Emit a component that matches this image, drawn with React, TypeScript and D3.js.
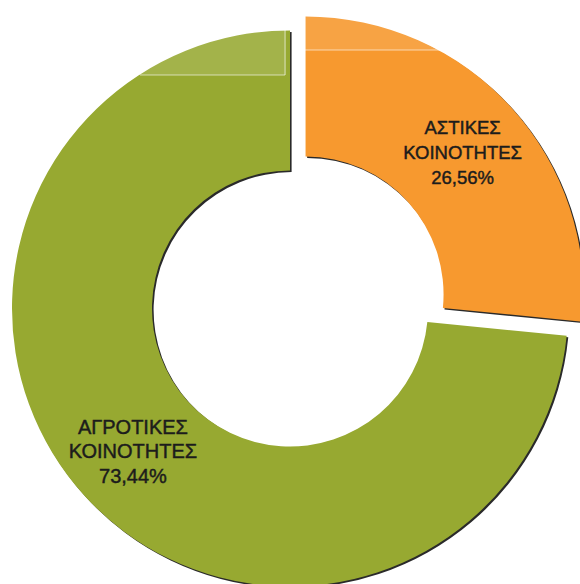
import React from "react";
import * as d3 from "d3";

const categories = ["ΑΣΤΙΚΕΣ ΚΟΙΝΟΤΗΤΕΣ", "ΑΓΡΟΤΙΚΕΣ ΚΟΙΝΟΤΗΤΕΣ"];
const labelLines = [["ΑΣΤΙΚΕΣ", "ΚΟΙΝΟΤΗΤΕΣ"], ["ΑΓΡΟΤΙΚΕΣ", "ΚΟΙΝΟΤΗΤΕΣ"]];
const values = [26.56, 73.44];
const valueLabels = ["26,56%", "73,44%"];
const colors = ["#f7992f", "#97a931"];
const explode = [21, 0];
const fontSizes = [18.5, 20];
const lineHeights = [25, 24.5];

const W = 580;
const H = 584;
const cx = 290;
const cy = 308.5;
const outerR = 278;
const innerR = 138;
const labelR = 212;

export default function App() {
  const pie = d3.pie<number>().sort(null).value((d) => d);
  const arcs = pie(values);
  const arc = d3.arc<d3.PieArcDatum<number>>().innerRadius(innerR).outerRadius(outerR);
  const labelArc = d3.arc<d3.PieArcDatum<number>>().innerRadius(labelR).outerRadius(labelR);

  const offsets = arcs.map((a, i) => {
    const mid = (a.startAngle + a.endAngle) / 2;
    return [Math.sin(mid) * explode[i], -Math.cos(mid) * explode[i]];
  });

  return (
    <svg
      width={W}
      height={H}
      style={{ position: "absolute", left: 0, top: 0, background: "#ffffff" }}
      fontFamily="'Liberation Sans', Arial, sans-serif"
    >
      <g transform={`translate(${cx},${cy})`}>
        {arcs.map((a, i) => (
          <g key={"s" + i} transform={`translate(${offsets[i][0] + 1.6},${offsets[i][1] + 1.6})`}>
            <path d={arc(a) || ""} fill="#2a2a2a" />
          </g>
        ))}
        {arcs.map((a, i) => (
          <g key={"a" + i} transform={`translate(${offsets[i][0]},${offsets[i][1]})`}>
            <path d={arc(a) || ""} fill={colors[i]} />
          </g>
        ))}
      </g>
      {/* scan wash artifacts near the top */}
      <rect x={0} y={0} width={286} height={75} fill="#ffffff" opacity={0.12} />
      <line x1={140} x2={285} y1={75} y2={75} stroke="#ffffff" strokeOpacity={0.6} strokeWidth={1} />
      <line x1={285} x2={285} y1={28} y2={75} stroke="#ffffff" strokeOpacity={0.6} strokeWidth={1} />
      <rect x={300} y={0} width={180} height={50} fill="#ffffff" opacity={0.1} />
      <line x1={305} x2={442} y1={50} y2={50} stroke="#ffffff" strokeOpacity={0.6} strokeWidth={1} />
      <g transform={`translate(${cx},${cy})`}>
        {arcs.map((a, i) => {
          const [lx, ly] = labelArc.centroid(a);
          const x = lx + offsets[i][0];
          const y = ly + offsets[i][1];
          const lines = [...labelLines[i], valueLabels[i]];
          const lh = lineHeights[i];
          return (
            <text
              key={"t" + i}
              x={x}
              y={y}
              textAnchor="middle"
              fontSize={fontSizes[i]}
              fill="#1c1c1c"
              stroke="#1c1c1c"
              strokeWidth={0.45}
            >
              {lines.map((ln, j) => (
                <tspan key={j} x={x} y={y + (j - 1) * lh + fontSizes[i] * 0.36}>
                  {ln}
                </tspan>
              ))}
            </text>
          );
        })}
      </g>
    </svg>
  );
}
